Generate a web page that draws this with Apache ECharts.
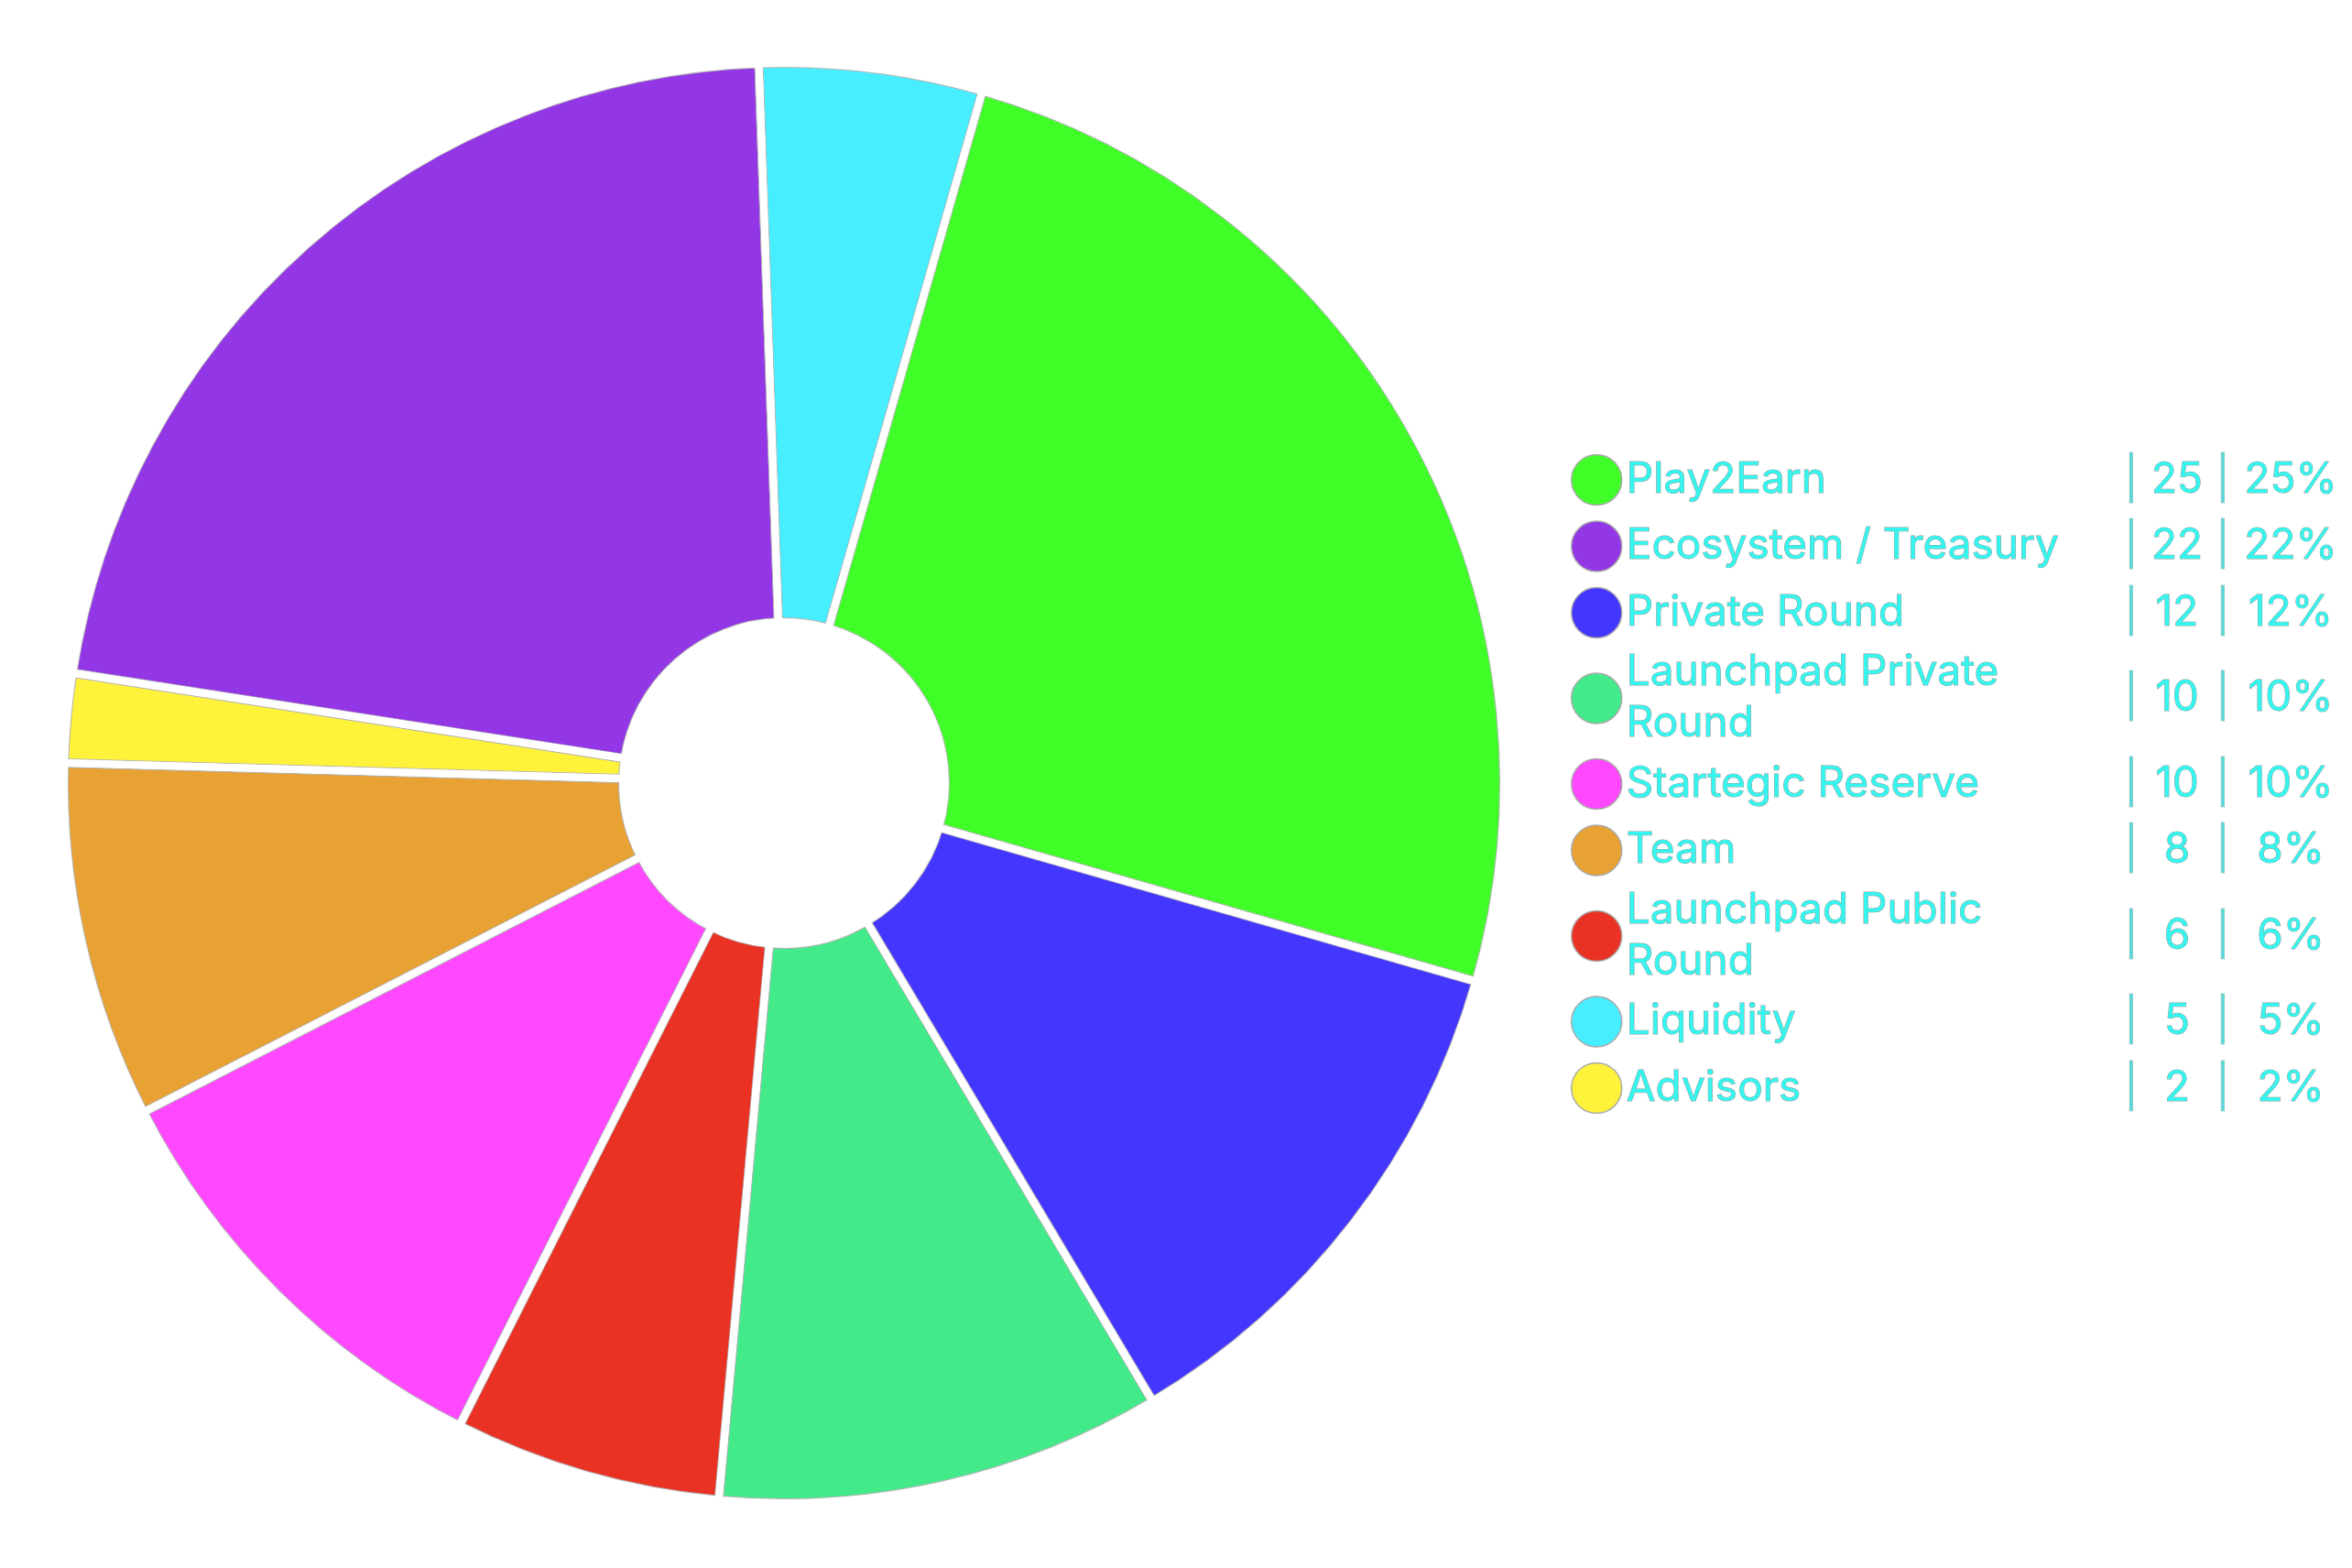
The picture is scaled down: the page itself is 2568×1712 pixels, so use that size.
<!DOCTYPE html>
<html>
<head>
<meta charset="utf-8">
<script src="https://cdn.jsdelivr.net/npm/echarts@6/dist/echarts.min.js"></script>
<style>
  html, body { margin: 0; padding: 0; background: #fff; }
  #chart { width: 2568px; height: 1712px; }
</style>
</head>
<body>
<div id="chart"></div>
<script>
// slices in the order they sit on the ring (clockwise)
const sliceNames = ['Play2Earn', 'Private Round', 'Launchpad Private Round', 'Launchpad Public Round',
  'Startegic Reserve', 'Team', 'Advisors', 'Ecosystem / Treasury', 'Liquidity'];
const sliceValues = [25, 12, 10, 6, 10, 8, 2, 22, 5];
const sliceColors = ['#40ff29', '#4336ff', '#43ea89', '#e93223', '#ff48ff', '#e8a133', '#fff23b', '#9337e6', '#47eeff'];

// legend order as listed on the right
const legendOrder = ['Play2Earn', 'Ecosystem / Treasury', 'Private Round', 'Launchpad Private Round',
  'Startegic Reserve', 'Team', 'Launchpad Public Round', 'Liquidity', 'Advisors'];

const total = sliceValues.reduce((a, b) => a + b, 0);
const valueOf = name => sliceValues[sliceNames.indexOf(name)];

const FONT = 'Inter';
const FS = 46;
const LH = 56;       // spacing of wrapped lines
const ROW_H = 70;    // height of a one-line legend row
const GAP = 2.5;
const NAME_W = 495;
const textColor = '#35f5ee';
const outline = '#9a9a9a';

// wrap long names by hand so both legend columns agree on row heights
const ctx = document.createElement('canvas').getContext('2d');
ctx.font = FS + 'px ' + FONT;
function wrapName(name) {
  if (ctx.measureText(name).width <= NAME_W) return name;
  const words = name.split(' ');
  let line = '';
  const lines = [];
  words.forEach(w => {
    const test = line ? line + ' ' + w : w;
    if (line && ctx.measureText(test).width > NAME_W) {
      lines.push(line);
      line = w;
    } else {
      line = test;
    }
  });
  lines.push(line);
  return lines.join('\n');
}
const lineCount = name => wrapName(name).split('\n').length;

// blank spacer lines pad a row up to its full height, keeping it centred
const padRow = (text, rowH) => {
  const extra = (rowH - LH * text.split('\n').length) / 2;
  if (extra <= 0) return text;
  const tok = extra <= 10 ? 'a' : 'b';
  return '{' + tok + '| }\n' + text + '\n{' + tok + '| }';
};
const spacer = h => ({ fontSize: 1, lineHeight: h, height: h });
const rowHeight = name => lineCount(name) > 1 ? 2 * LH : ROW_H;

const numStyle = w => ({
  width: w, align: 'center', fontSize: FS, fontFamily: FONT, lineHeight: LH,
  color: textColor, textBorderColor: outline, textBorderWidth: 1
});
const pipeStyle = () => ({
  width: 12, align: 'center', fontSize: FS, fontFamily: FONT, lineHeight: LH,
  color: '#5fd6d6', textBorderColor: outline, textBorderWidth: 0.5
});

const chart = echarts.init(document.getElementById('chart'));

const center = [856, 855];
const radius = [176, 786];

chart.setOption({
  backgroundColor: '#fff',
  animation: false,
  legend: [
    {
      data: legendOrder,
      orient: 'vertical',
      left: 1710,
      top: 'middle',
      icon: 'circle',
      itemWidth: 55,
      itemHeight: 55,
      itemGap: GAP,
      selectedMode: false,
      itemStyle: { borderColor: '#aaaaaa', borderWidth: 1.5 },
      formatter: name => padRow(wrapName(name), rowHeight(name)),
      textStyle: {
        color: textColor, fontSize: FS, fontFamily: FONT, lineHeight: LH,
        textBorderColor: outline, textBorderWidth: 1,
        rich: { a: spacer((ROW_H - LH) / 2), b: spacer(LH / 2) }
      }
    },
    {
      data: legendOrder,
      orient: 'vertical',
      left: 2309,
      top: 'middle',
      icon: 'rect',
      itemWidth: 1,
      itemHeight: 55,
      itemGap: GAP,
      selectedMode: false,
      itemStyle: { opacity: 0 },
      formatter: name => {
        const v = valueOf(name);
        const pct = Math.round(v / total * 100) + '%';
        const row = '{p||}{v|' + v + '}{p||}{c|' + pct + '}';
        return padRow(row, rowHeight(name));
      },
      textStyle: {
        color: textColor, fontSize: FS, fontFamily: FONT, lineHeight: LH,
        rich: {
          p: pipeStyle(),
          v: numStyle(88),
          c: numStyle(136),
          a: spacer((ROW_H - LH) / 2),
          b: spacer(LH / 2)
        }
      }
    }
  ],
  series: [
    {
      // slices with a thin grey edge
      type: 'pie',
      center: center,
      radius: radius,
      startAngle: 74,
      clockwise: true,
      silent: true,
      label: { show: false },
      labelLine: { show: false },
      emphasis: { disabled: true },
      itemStyle: { borderColor: '#b4b4b4', borderWidth: 10 },
      data: sliceNames.map((n, i) => ({ name: n, value: sliceValues[i], itemStyle: { color: sliceColors[i] } }))
    },
    {
      // white gaps between slices
      type: 'pie',
      center: center,
      radius: radius,
      startAngle: 74,
      clockwise: true,
      silent: true,
      label: { show: false },
      labelLine: { show: false },
      emphasis: { disabled: true },
      itemStyle: { color: 'rgba(0,0,0,0)', borderColor: '#ffffff', borderWidth: 8 },
      data: sliceValues.map(v => ({ value: v }))
    },
    {
      // clean up outside the ring
      type: 'pie',
      center: center,
      radius: [789, 800],
      silent: true,
      label: { show: false },
      labelLine: { show: false },
      emphasis: { disabled: true },
      itemStyle: { color: '#ffffff' },
      data: [{ value: 1 }]
    },
    {
      // clean up inside the hole
      type: 'pie',
      center: center,
      radius: [0, 173],
      silent: true,
      label: { show: false },
      labelLine: { show: false },
      emphasis: { disabled: true },
      itemStyle: { color: '#ffffff' },
      data: [{ value: 1 }]
    }
  ]
});
</script>
</body>
</html>
